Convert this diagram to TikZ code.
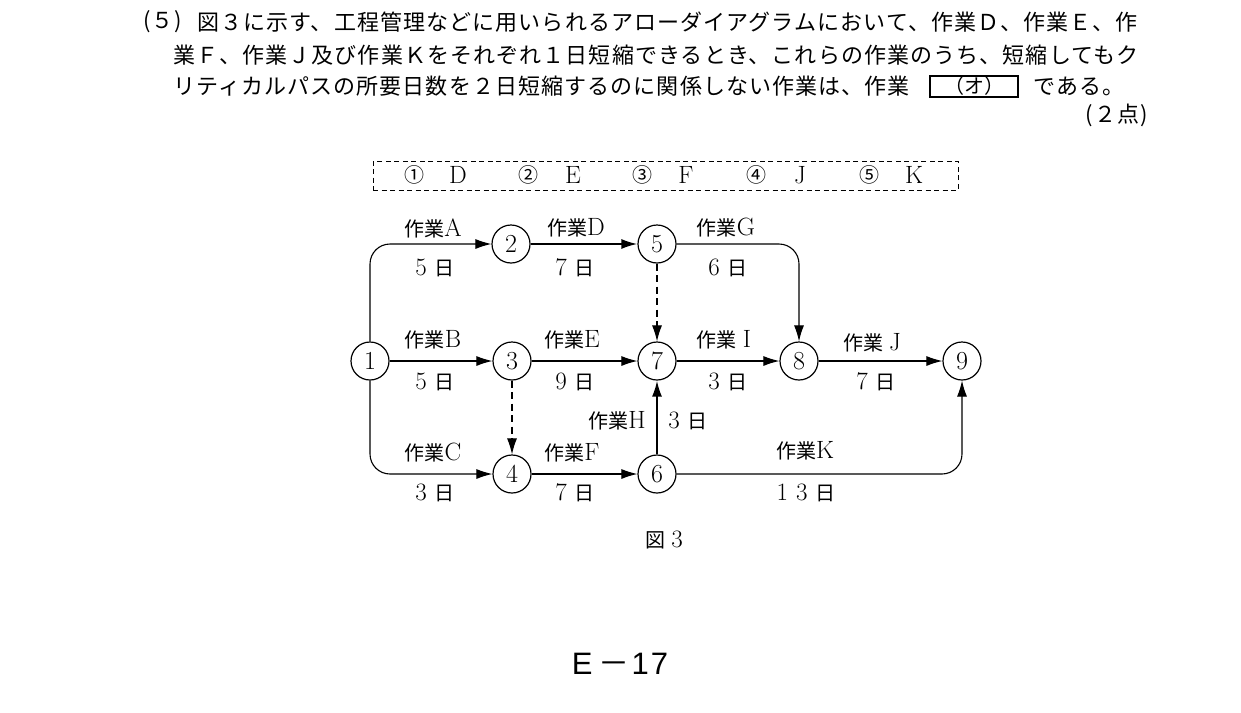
\documentclass[tikz,border=0pt]{standalone}
\usepackage{fontspec}
\newfontfamily\jp{Noto Sans CJK JP}
\newfontfamily\jpsp{Noto Sans CJK JP}[LetterSpace=5]
\newfontfamily\pagefont{Liberation Sans}
\usetikzlibrary{arrows.meta}
\newcommand\jz[1]{{\fontsize{20}{20}\selectfont\jp #1}}
\tikzset{
  ev/.style={circle, draw, line width=1.2pt, minimum size=38pt, inner sep=0pt, font=\fontsize{26}{26}\selectfont},
  arr/.style={-{Latex[length=16pt,width=10pt]}, line width=1.1pt},
  thick arr/.style={arr, line width=1.9pt},
  dash arr/.style={arr, dash pattern=on 7pt off 4.5pt},
  lbl/.style={inner sep=0pt, font=\fontsize{25}{25}\selectfont},
  txt/.style={inner sep=0pt, anchor=west, font=\fontsize{22}{22}\selectfont\jpsp},
  choice/.style={inner sep=0pt, font=\fontsize{25}{25}\selectfont},
}
\begin{document}
\begin{tikzpicture}[x=1pt,y=-1pt]
\useasboundingbox[fill=white] (0,0) rectangle (1241,712);

% question text
\node[txt] (q0) at (143,22) {(５)};
\node[txt] (q1) at (197,22) {図３に示す、工程管理などに用いられるアローダイアグラムにおいて、作業Ｄ、作業Ｅ、作};
\node[txt] (q2) at (173,55) {業Ｆ、作業Ｊ及び作業Ｋをそれぞれ１日短縮できるとき、これらの作業のうち、短縮してもク};
\node[txt] (q3) at (173,86) {リティカルパスの所要日数を２日短縮するのに関係しない作業は、作業};
\node[draw, line width=2pt, minimum width=88pt, minimum height=21pt, inner sep=0pt, font=\fontsize{20}{20}\selectfont\jp] (ans) at (974,86) {（オ）};
\node[txt] (q4) at (1033,86) {である。};
\node[txt, anchor=east] (pts) at (1148,115) {(２点)};

% choices
\node[draw, dash pattern=on 5pt off 3.5pt, line width=0.8pt, minimum width=585pt, minimum height=29pt] (box) at (665.5,175.5) {};
\node[choice] (c1) at (414,175) {\jz{①}};
\node[choice] (l1) at (458,175) {D};
\node[choice] (c2) at (528,175) {\jz{②}};
\node[choice] (l2) at (573,175) {E};
\node[choice] (c3) at (642,175) {\jz{③}};
\node[choice] (l3) at (686,175) {F};
\node[choice] (c4) at (756,175) {\jz{④}};
\node[choice] (l4) at (800,175) {J};
\node[choice] (c5) at (869,175) {\jz{⑤}};
\node[choice] (l5) at (914,175) {K};

% events
\node[ev] (n1) at (370,361) {1};
\node[ev] (n2) at (511,244) {2};
\node[ev] (n5) at (657,244) {5};
\node[ev] (n3) at (512,361) {3};
\node[ev] (n7) at (657,361) {7};
\node[ev] (n8) at (799,361) {8};
\node[ev] (n9) at (962,361) {9};
\node[ev] (n4) at (512,474) {4};
\node[ev] (n6) at (657,474) {6};

% activities
\draw[arr, rounded corners=20pt] (n1.north) |- (n2.west);
\draw[arr] (n1) -- (n3);
\draw[arr, rounded corners=20pt] (n1.south) |- (n4.west);
\draw[thick arr] (n2) -- (n5);
\draw[arr] (n3) -- (n7);
\draw[arr] (n4) -- (n6);
\draw[dash arr] (n5) -- (n7);
\draw[dash arr] (n3) -- (n4);
\draw[thick arr] (n6) -- (n7);
\draw[arr, rounded corners=20pt] (n5.east) -| (n8.north);
\draw[arr] (n7) -- (n8);
\draw[arr] (n8) -- (n9);
\draw[arr, rounded corners=20pt] (n6.east) -| (n9.south);

% labels
\node[lbl] (tA) at (433,228) {\jz{作業}A};
\node[lbl] (dA) at (435,268) {5\hspace{8pt}\jz{日}};
\node[lbl] (tD) at (576,228) {\jz{作業}D};
\node[lbl] (dD) at (575,268) {7\hspace{8pt}\jz{日}};
\node[lbl] (tG) at (726,228) {\jz{作業}G};
\node[lbl] (dG) at (728,268) {6\hspace{8pt}\jz{日}};
\node[lbl] (tB) at (433,340) {\jz{作業}B};
\node[lbl] (dB) at (435,382) {5\hspace{8pt}\jz{日}};
\node[lbl] (tE) at (572,340) {\jz{作業}E};
\node[lbl] (dE) at (575,382) {9\hspace{8pt}\jz{日}};
\node[lbl] (tI) at (724,340) {\jz{作業}\hspace{6pt}I};
\node[lbl] (dI) at (728,382) {3\hspace{8pt}\jz{日}};
\node[lbl] (tJ) at (872,343) {\jz{作業}\hspace{6pt}J};
\node[lbl] (dJ) at (876,382) {7\hspace{8pt}\jz{日}};
\node[lbl] (tC) at (433,453) {\jz{作業}C};
\node[lbl] (dC) at (435,493) {3\hspace{8pt}\jz{日}};
\node[lbl] (tF) at (572,453) {\jz{作業}F};
\node[lbl] (dF) at (575,493) {7\hspace{8pt}\jz{日}};
\node[lbl] (tH) at (617,421) {\jz{作業}H};
\node[lbl] (dH) at (688,421) {3\hspace{8pt}\jz{日}};
\node[lbl] (tK) at (805,451) {\jz{作業}K};
\node[lbl] (dK) at (806,493) {1\hspace{8pt}3\hspace{8pt}\jz{日}};

\node[lbl] (fig) at (664,540) {\jz{図}\hspace{6pt}3};
\node[inner sep=0pt, font=\fontsize{31}{31}\selectfont\pagefont] (page) at (620,664) {E\hspace{6pt}{\jp －}\hspace{2pt}1\hspace{2pt}7};
\end{tikzpicture}
\end{document}
